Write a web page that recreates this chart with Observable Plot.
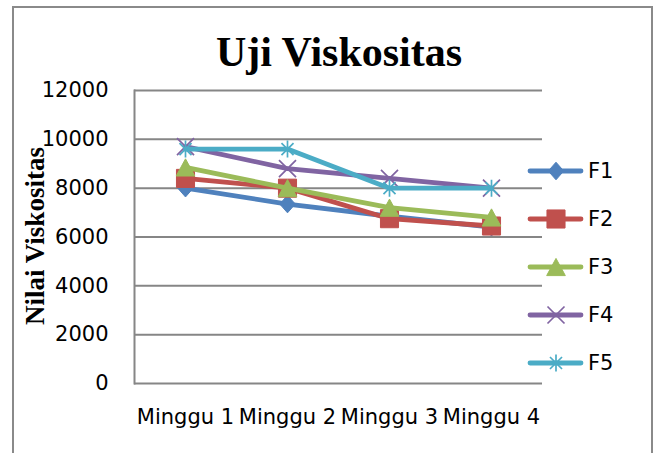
<!DOCTYPE html>
<html>
<head>
<meta charset="utf-8">
<script src="https://cdn.jsdelivr.net/npm/d3@7"></script>
<script src="https://cdn.jsdelivr.net/npm/@observablehq/plot@0.6"></script>
<style>
  body { margin: 0; background: #fff; }
  #wrap { position: relative; width: 668px; height: 453px; overflow: hidden; background: #fff; }
  #border { position: absolute; left: 12px; top: 6px; width: 641px; height: 470px; border: 2px solid #8a8a8a; box-sizing: border-box; }
  #title { position: absolute; left: 0; width: 678px; top: 31px; text-align: center;
           font-family: "Liberation Serif", "DejaVu Serif", serif; font-weight: bold; font-size: 42px; line-height: 42px; color: #000; }
  #ylabel { position: absolute; left: 35px; top: 236px; transform: translate(-50%, -50%) rotate(-90deg);
            white-space: nowrap; font-family: "Liberation Serif", serif; font-weight: bold; font-size: 27px; color: #000; }
  #chart { position: absolute; left: 0; top: 80px; }
  #legend { position: absolute; left: 520px; top: 150px; }
</style>
</head>
<body>
<div id="wrap">
  <div id="border"></div>
  <div id="title">Uji Viskositas</div>
  <div id="ylabel">Nilai Viskositas</div>
  <div id="chart"></div>
  <svg id="legend" width="140" height="230"></svg>
</div>
<script>
const weeks = ["Minggu 1", "Minggu 2", "Minggu 3", "Minggu 4"];
const seriesNames = ["F1", "F2", "F3", "F4", "F5"];
const F1 = [8000, 7350, 6850, 6400];
const F2 = [8400, 8000, 6750, 6450];
const F3 = [8850, 8000, 7200, 6800];
const F4 = [9700, 8800, 8400, 8000];
const F5 = [9600, 9600, 8000, 8000];
const yTicks = [0, 2000, 4000, 6000, 8000, 10000, 12000];

const colors = ["#4f81bd", "#c0504d", "#9bbb59", "#8064a2", "#4bacc6"];

// custom symbols (Excel-like)
const triBox = { draw(ctx, size) { const w = Math.sqrt(size) * 1.27, h = w * 0.92;
  ctx.moveTo(0, -h / 2); ctx.lineTo(w / 2, h / 2); ctx.lineTo(-w / 2, h / 2); ctx.closePath(); } };
const star = { draw(ctx, size) { const a = Math.sqrt(size) * 0.6, d = a * 0.7071;
  ctx.moveTo(0, -a); ctx.lineTo(0, a); ctx.moveTo(-d, -d); ctx.lineTo(d, d); ctx.moveTo(-d, d); ctx.lineTo(d, -d); } };
const cross = { draw(ctx, size) { const a = Math.sqrt(size) * 0.6;
  ctx.moveTo(-a, -a); ctx.lineTo(a, a); ctx.moveTo(-a, a); ctx.lineTo(a, -a); } };
const diamond = { draw(ctx, size) { const a = Math.sqrt(size) * 0.62;
  ctx.moveTo(0, -a); ctx.lineTo(a * 0.88, 0); ctx.lineTo(0, a); ctx.lineTo(-a * 0.88, 0); ctx.closePath(); } };
const square = { draw(ctx, size) { const a = Math.sqrt(size) * 0.6;
  ctx.rect(-a, -a, 2 * a, 2 * a); } };

const symbols = [diamond, square, triBox, cross, star];
const filled = [true, true, true, false, false];
const radii = [8, 8.5, 8.3, 8, 8];

const seriesValues = [F1, F2, F3, F4, F5];
const rows = [];
seriesNames.forEach((s, i) => weeks.forEach((w, j) => rows.push({ series: s, week: w, value: seriesValues[i][j] })));

const seriesMarks = [];
seriesNames.forEach((s, i) => {
  const d = rows.filter(r => r.series === s);
  seriesMarks.push(Plot.line(d, { x: "week", y: "value", stroke: colors[i], strokeWidth: 4.8, strokeLinejoin: "round", strokeLinecap: "round" }));
  seriesMarks.push(Plot.dot(d, { x: "week", y: "value", symbol: () => symbols[i], r: radii[i],
    fill: filled[i] ? colors[i] : "none", stroke: colors[i], strokeWidth: filled[i] ? 1 : 1.7 }));
});

const chart = Plot.plot({
  width: 560, height: 373,
  marginLeft: 134, marginRight: 18, marginTop: 10, marginBottom: 70,
  x: { type: "point", domain: weeks, padding: 0.5, label: null },
  y: { domain: [0, 12000], label: null },
  style: { fontFamily: "DejaVu Sans", fontSize: "21px", color: "#000", background: "transparent", overflow: "visible" },
  marks: [
    Plot.gridY(yTicks, { stroke: "#868686", strokeOpacity: 1, strokeWidth: 2 }),
    Plot.frame({ anchor: "left", stroke: "#868686", strokeWidth: 2 }),
    Plot.axisY(yTicks, { tickSize: 0, tickPadding: 26, tickFormat: d => String(d), fontSize: 21, fill: "#000" }),
    Plot.axisX(weeks, { tickSize: 0, tickPadding: 26, fontSize: 21, fill: "#000" }),
    ...seriesMarks
  ]
});
document.getElementById("chart").appendChild(chart);

// legend
const leg = d3.select("#legend");
seriesNames.forEach((s, i) => {
  const g = leg.append("g").attr("transform", `translate(0,${21 + i * 48})`);
  g.append("line").attr("x1", 10).attr("x2", 61).attr("y1", 0).attr("y2", 0)
    .attr("stroke", colors[i]).attr("stroke-width", 4.8).attr("stroke-linecap", "round");
  g.append("path").attr("transform", "translate(36,0)")
    .attr("d", d3.symbol().type(symbols[i]).size(Math.PI * radii[i] * radii[i])())
    .attr("fill", filled[i] ? colors[i] : "none").attr("stroke", colors[i]).attr("stroke-width", filled[i] ? 1 : 1.7);
  g.append("text").attr("x", 68).attr("y", 0).attr("dy", "0.35em")
    .attr("font-family", "DejaVu Sans").attr("font-size", 21).attr("fill", "#000").text(s);
});
</script>
</body>
</html>
